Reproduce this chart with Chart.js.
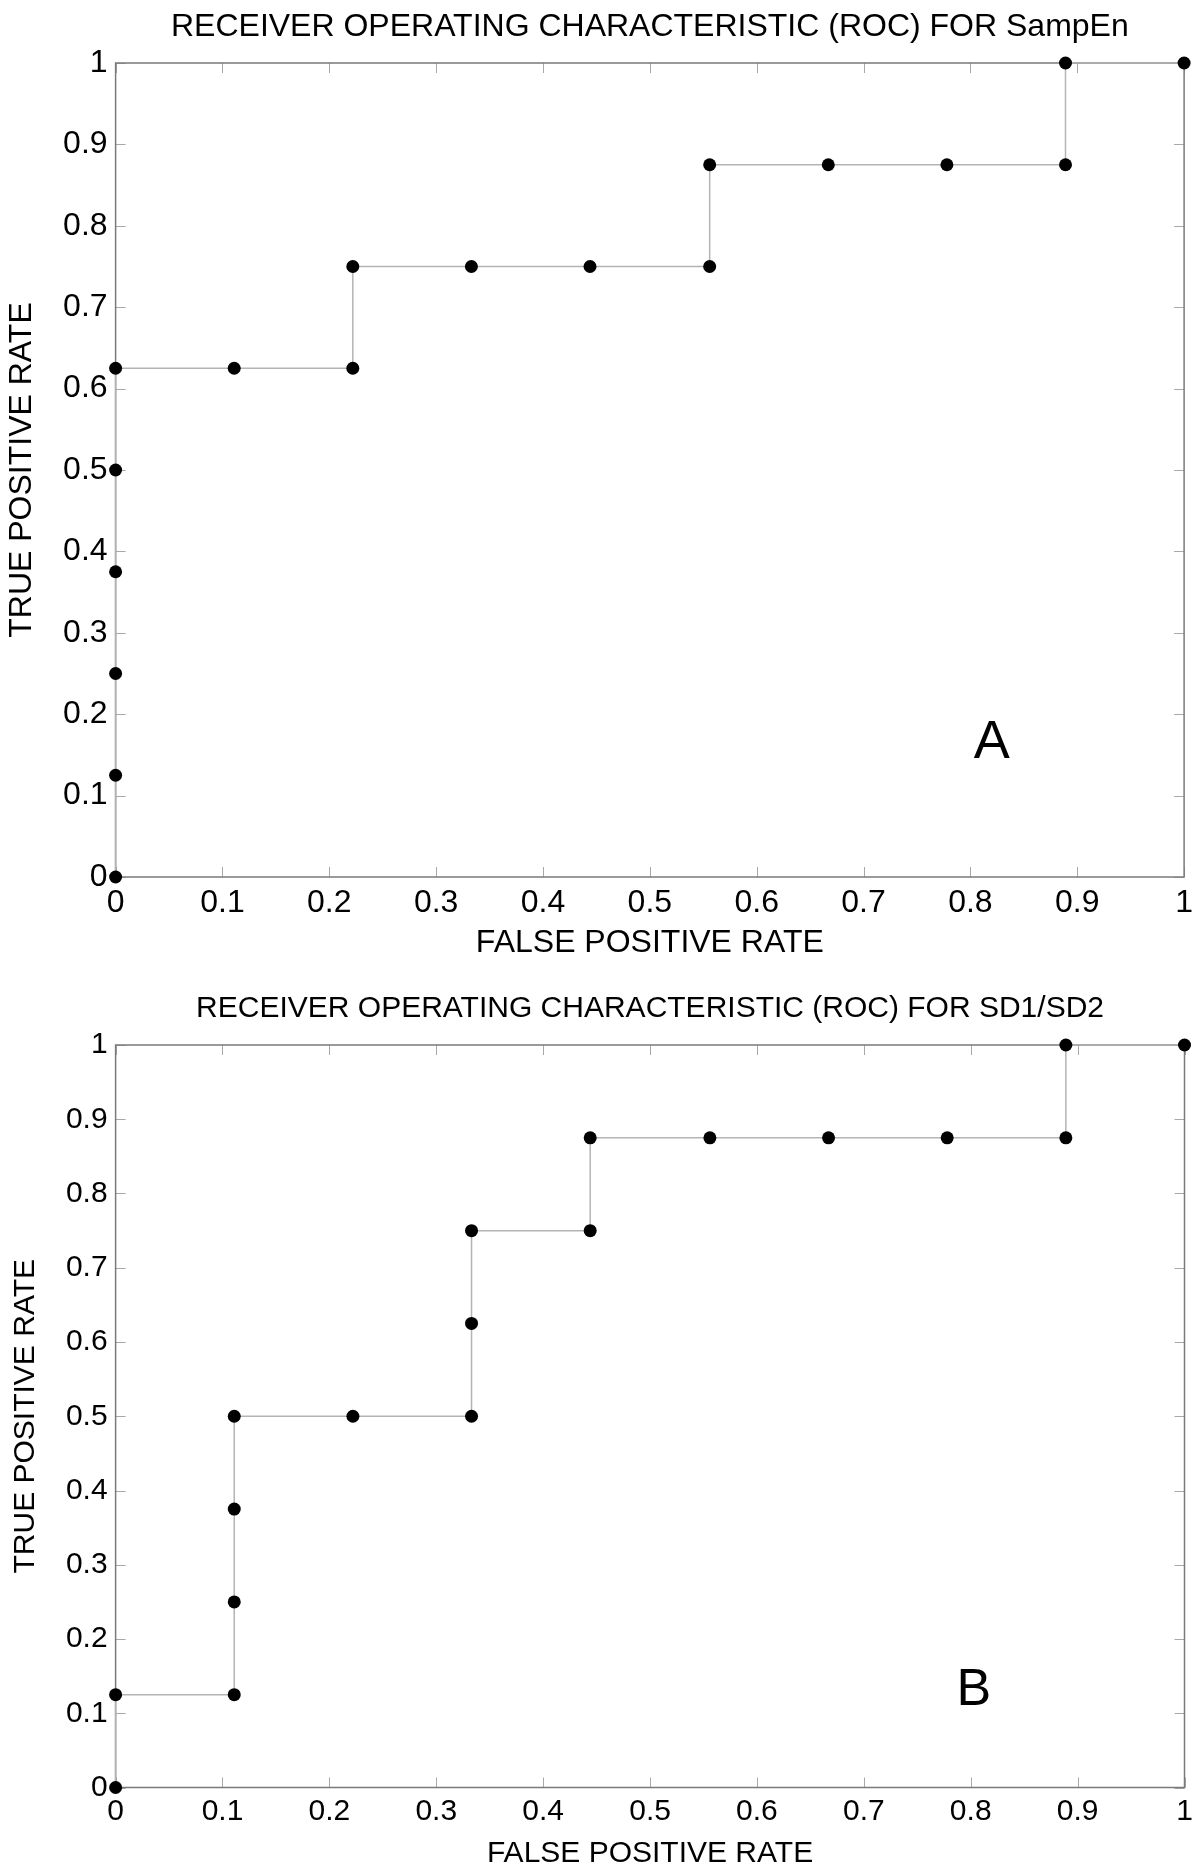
<!DOCTYPE html>
<html>
<head>
<meta charset="utf-8">
<script src="https://cdn.jsdelivr.net/npm/chart.js@4.4.1/dist/chart.umd.min.js"></script>
<style>
    html, body { margin: 0; padding: 0; background: #fff; }
    .panel { position: absolute; left: 0; width: 1200px; }
    #panelA { top: 0; }
    #panelB { top: 975px; }
</style>
</head>
<body>
<div class="panel" id="panelA"><canvas id="rocA" width="1200" height="975"></canvas></div>
<div class="panel" id="panelB"><canvas id="rocB" width="1200" height="893"></canvas></div>
<script>
// ─── DATA ────────────────────────────────────────────────────
const fprTicks = [0, 0.1, 0.2, 0.3, 0.4, 0.5, 0.6, 0.7, 0.8, 0.9, 1];
const tprTicks = [0, 0.1, 0.2, 0.3, 0.4, 0.5, 0.6, 0.7, 0.8, 0.9, 1];

// SampEn
const sampEnFpr = [0, 0, 0, 0, 0, 0, 0.111, 0.222, 0.222, 0.333, 0.444, 0.556, 0.556, 0.667, 0.778, 0.889, 0.889, 1];
const sampEnTpr = [0, 0.125, 0.25, 0.375, 0.5, 0.625, 0.625, 0.625, 0.75, 0.75, 0.75, 0.75, 0.875, 0.875, 0.875, 0.875, 1, 1];

// SD1/SD2
const sdRatioFpr = [0, 0, 0.111, 0.111, 0.111, 0.111, 0.222, 0.333, 0.333, 0.333, 0.444, 0.444, 0.556, 0.667, 0.778, 0.889, 0.889, 1];
const sdRatioTpr = [0, 0.125, 0.125, 0.25, 0.375, 0.5, 0.5, 0.5, 0.625, 0.75, 0.75, 0.875, 0.875, 0.875, 0.875, 0.875, 1, 1];

const FONT = '"Liberation Sans", Arial, Helvetica, sans-serif';

// ─── PLUGINS ─────────────────────────────────────────────────
// box around the plot with inward tick marks on all four sides
const frameTicks = {
    id: 'frameTicks',
    beforeDatasetsDraw(chart) {
        const { ctx, chartArea: a, scales: { x, y } } = chart;
        const len = 10;
        ctx.save();
        ctx.strokeStyle = '#a8a8a8';
        ctx.lineWidth = 1;
        ctx.beginPath();
        x.ticks.forEach(t => {
            const px = Math.round(x.getPixelForValue(t.value)) + 0.5;
            ctx.moveTo(px, a.bottom); ctx.lineTo(px, a.bottom - len);
            ctx.moveTo(px, a.top);    ctx.lineTo(px, a.top + len);
        });
        y.ticks.forEach(t => {
            const py = Math.round(y.getPixelForValue(t.value)) + 0.5;
            ctx.moveTo(a.left, py);  ctx.lineTo(a.left + len, py);
            ctx.moveTo(a.right, py); ctx.lineTo(a.right - len, py);
        });
        ctx.stroke();
        ctx.strokeStyle = '#7a7a7a';
        ctx.lineWidth = 1.5;
        ctx.strokeRect(a.left, a.top, a.right - a.left, a.bottom - a.top);
        ctx.restore();
    }
};

// titles, axis titles and the panel letter
const panelText = {
    id: 'panelText',
    afterDraw(chart, args, o) {
        const { ctx, chartArea: a } = chart;
        const cx = (a.left + a.right) / 2;
        const cy = (a.top + a.bottom) / 2;
        ctx.save();
        ctx.fillStyle = '#000';
        ctx.textAlign = 'center';
        ctx.textBaseline = 'middle';

        ctx.font = `${o.titleSize}px ${FONT}`;
        ctx.fillText(o.title, cx, a.top - o.titleGap);

        ctx.font = `${o.axisSize}px ${FONT}`;
        ctx.fillText('FALSE POSITIVE RATE', cx, a.bottom + o.xTitleGap);

        ctx.save();
        ctx.translate(o.yTitleX, cy);
        ctx.rotate(-Math.PI / 2);
        ctx.fillText('TRUE POSITIVE RATE', 0, 0);
        ctx.restore();

        ctx.font = `${o.letterSize}px ${FONT}`;
        ctx.fillText(o.letter, chart.scales.x.getPixelForValue(o.letterAt[0]),
                               chart.scales.y.getPixelForValue(o.letterAt[1]));
        ctx.restore();
    }
};

// ─── CHART FACTORY ───────────────────────────────────────────
function makeRoc(id, fpr, tpr, p) {
    return new Chart(document.getElementById(id), {
        type: 'line',
        data: {
            datasets: [{
                data: fpr.map((v, i) => ({ x: v, y: tpr[i] })),
                borderColor: '#b4b4b4',
                borderWidth: 1.5,
                pointRadius: 6.5,
                pointBackgroundColor: '#000',
                pointBorderColor: '#000',
                pointBorderWidth: 0,
                tension: 0,
                clip: false
            }]
        },
        options: {
            responsive: false,
            animation: false,
            events: [],
            layout: { padding: { top: p.top, right: 15.5, left: 0, bottom: 0 } },
            plugins: {
                legend: { display: false },
                tooltip: { enabled: false },
                panelText: p.text
            },
            scales: {
                x: {
                    type: 'linear', min: 0, max: 1,
                    afterBuildTicks: s => { s.ticks = fprTicks.map(v => ({ value: v })); },
                    afterFit: s => { s.height = p.xHeight; },
                    grid: { display: false, drawTicks: false },
                    border: { display: false },
                    ticks: {
                        color: '#000', padding: p.xPad, maxRotation: 0, autoSkip: false,
                        font: { family: FONT, size: p.tickSize },
                        callback: v => String(+v.toFixed(1))
                    }
                },
                y: {
                    type: 'linear', min: 0, max: 1,
                    afterBuildTicks: s => { s.ticks = tprTicks.map(v => ({ value: v })); },
                    afterFit: s => { s.width = 115.6; },
                    grid: { display: false, drawTicks: false },
                    border: { display: false },
                    ticks: {
                        color: '#000', padding: 8, autoSkip: false,
                        font: { family: FONT, size: p.tickSize },
                        callback: v => String(+v.toFixed(1))
                    }
                }
            }
        },
        plugins: [frameTicks, panelText]
    });
}

// ─── INIT ────────────────────────────────────────────────────
makeRoc('rocA', sampEnFpr, sampEnTpr, {
    top: 63, xHeight: 98, xPad: 7, tickSize: 32,
    text: {
        title: 'RECEIVER OPERATING CHARACTERISTIC (ROC) FOR SampEn',
        titleSize: 32, titleGap: 36, axisSize: 32, xTitleGap: 66,
        yTitleX: 22, letter: 'A', letterSize: 54, letterAt: [0.82, 0.165]
    }
});

makeRoc('rocB', sdRatioFpr, sdRatioTpr, {
    top: 70, xHeight: 80.5, xPad: 6, tickSize: 30,
    text: {
        title: 'RECEIVER OPERATING CHARACTERISTIC (ROC) FOR SD1/SD2',
        titleSize: 30, titleGap: 36, axisSize: 30, xTitleGap: 66,
        yTitleX: 26, letter: 'B', letterSize: 52, letterAt: [0.803, 0.13]
    }
});
</script>
</body>
</html>
